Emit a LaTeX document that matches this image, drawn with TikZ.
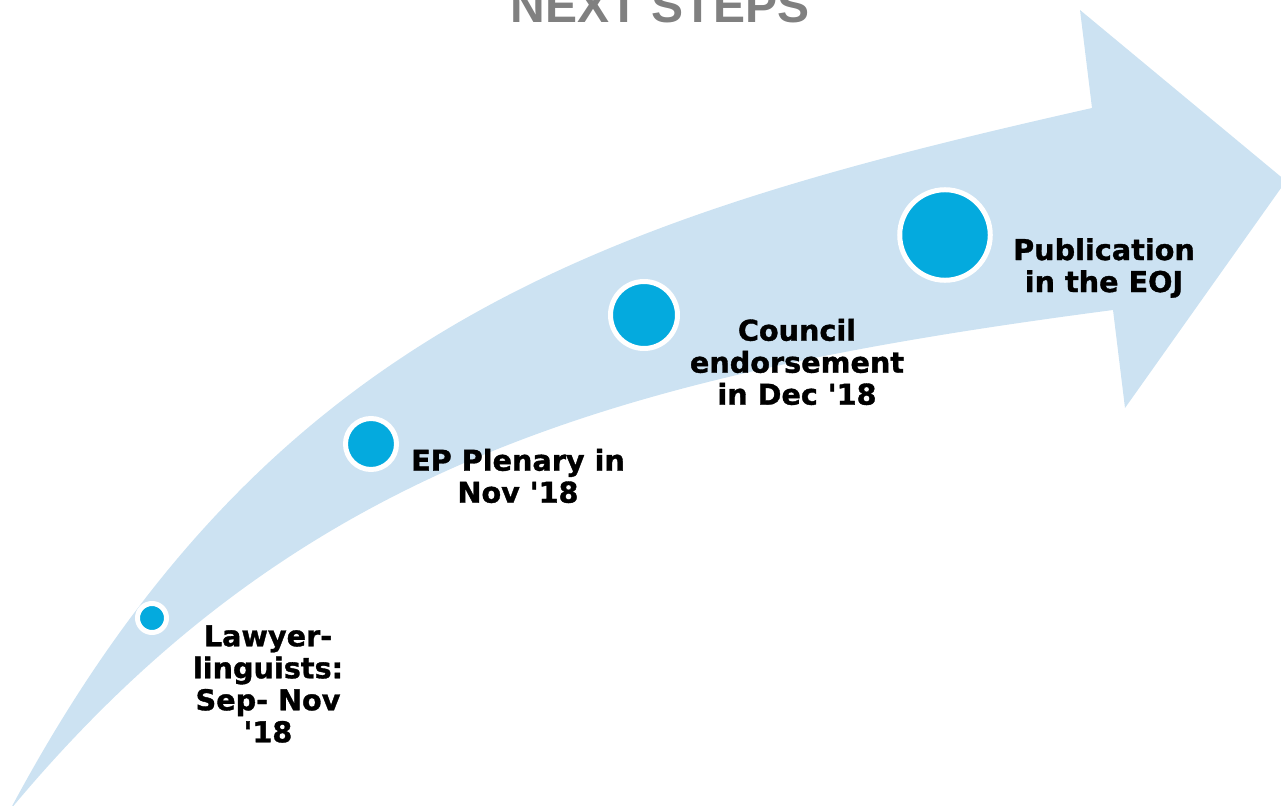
\documentclass[tikz,border=0pt]{standalone}
\usepackage{fontspec}
\setmainfont{DejaVu Sans}
\newfontfamily\labelfont[FakeBold=1.2]{DejaVu Sans Bold}
\newfontfamily\titlefont{Liberation Sans}
\definecolor{bandblue}{RGB}{204,226,242}
\definecolor{dotblue}{RGB}{4,170,222}
\definecolor{titlegray}{RGB}{128,128,128}
\newcommand{\yr}{\textquotesingle 18}
\tikzset{
  stepdot/.style={circle, fill=dotblue, draw=white, line width=3.75pt, inner sep=0pt},
  steplabel/.style={align=center, font=\labelfont\fontsize{21.5pt}{24pt}\selectfont, inner sep=0pt}
}
\begin{document}
\begin{tikzpicture}[x=0.75pt,y=-0.75pt]
\useasboundingbox (0,0) rectangle (1281,806);
% curved arrow
\fill[bandblue] (10,810) .. controls (268,326) and (604,218) .. (1092,108)
  -- (1080,10) -- (1286,181) -- (1125,408) -- (1113,310)
  .. controls (618,375) and (298,464) .. (10,810) -- cycle;
% title
\node[anchor=base, text=titlegray, font=\titlefont\fontsize{36pt}{40pt}\selectfont\bfseries] (title) at (660,23) {NEXT STEPS};
% steps
\node[stepdot, minimum size=21.75pt] (lawyer) at (152,618) {};
\node[stepdot, minimum size=38.25pt] (plenary) at (371,444) {};
\node[stepdot, minimum size=50.25pt] (council) at (644,315) {};
\node[stepdot, minimum size=67.9pt] (publication) at (945,235) {};
% labels
\node[steplabel] (lawyerlbl) at (268,684) {Lawyer-\\linguists:\\Sep- Nov\\\yr};
\node[steplabel] (plenarylbl) at (518,476) {EP Plenary in\\Nov \yr};
\node[steplabel] (councillbl) at (797,362) {Council\\endorsement\\in Dec \yr};
\node[steplabel] (publicationlbl) at (1104,268) {Publication\\in the EOJ};
\end{tikzpicture}
\end{document}
